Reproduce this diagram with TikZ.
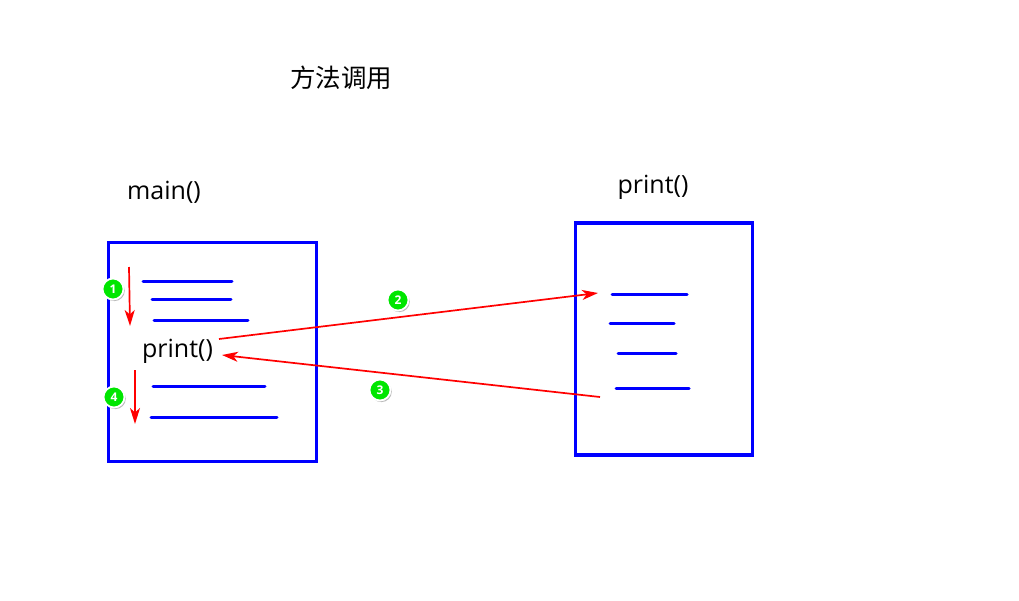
\documentclass[tikz,border=0pt]{standalone}
\usepackage{fontspec}
\setmainfont{Open Sans}
\newfontfamily\cjk{Noto Sans CJK SC}
\usetikzlibrary{arrows.meta,shadows}
\definecolor{bblue}{RGB}{0,0,255}
\definecolor{rred}{RGB}{255,0,0}
\definecolor{ggreen}{RGB}{0,230,0}
\tikzset{
  box/.style={draw=bblue,line width=3.8pt},
  codeline/.style={draw=bblue,line width=3pt,line cap=round},
  flow/.style={draw=rred,line width=1.7pt,-{Stealth[length=16pt,width=10pt,inset=4.5pt]}},
  badge/.style={circle,fill=ggreen,draw=white,line width=1.8pt,minimum size=21pt,inner sep=0pt,
    text=white,font=\fontsize{12}{12}\selectfont\bfseries,
    drop shadow={shadow xshift=1.3pt,shadow yshift=-1.6pt,opacity=0.45,fill=black!60}},
  lbl/.style={inner sep=0pt,font=\fontsize{25}{25}\selectfont}
}
\begin{document}
\begin{tikzpicture}[x=1pt,y=-1pt]
\useasboundingbox (0,0) rectangle (1019,600);
% title
\node[inner sep=0pt,font=\cjk\fontsize{25.5}{25.5}\selectfont] (title) at (341,78) {方法调用};
\node[lbl] (mainlbl) at (164,192) {main()};
\node[lbl] (printlbl) at (653,187) {print()};
% boxes
\draw[box] (108.5,242.5) rectangle (316.5,461.5);
\draw[box] (575.5,223) rectangle (752.5,455);
% left code lines
\draw[codeline] (143,281) -- (232,281);
\draw[codeline] (152,299) -- (231,299);
\draw[codeline] (154,320) -- (248,320);
\draw[codeline] (153,386) -- (265,386);
\draw[codeline] (151,417) -- (277,417);
\node[lbl] (call) at (177.5,351) {print()};
% right code lines
\draw[codeline] (612,294) -- (687,294);
\draw[codeline] (610,323) -- (674,323);
\draw[codeline] (618,353) -- (676,353);
\draw[codeline] (616,388) -- (689,388);
% flow coordinates
\coordinate (a1s) at (129,267);
\coordinate (a1e) at (130,326);
\coordinate (a4s) at (135,370);
\coordinate (a4e) at (135,424);
\coordinate (a2s) at (219,339);
\coordinate (a2e) at (598,293);
\coordinate (a3s) at (600,397);
\coordinate (a3e) at (222,355);
\draw[flow] (a1s) -- (a1e);
\draw[flow] (a4s) -- (a4e);
\draw[flow] (a2s) -- (a2e);
\draw[flow] (a3s) -- (a3e);
% badges
\node[badge] (b1) at (113,289) {1};
\node[badge] (b4) at (114,397) {4};
\node[badge] (b2) at (398,300) {2};
\node[badge] (b3) at (380,390) {3};
\end{tikzpicture}
\end{document}
